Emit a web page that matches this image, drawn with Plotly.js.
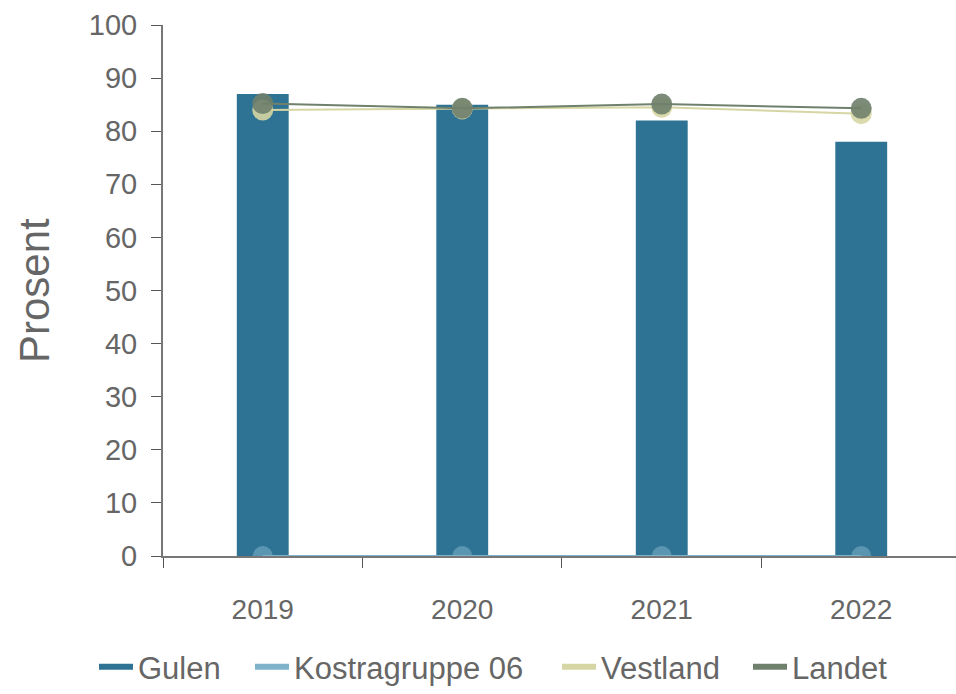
<!DOCTYPE html>
<html><head><meta charset="utf-8">
<script src="https://cdn.plot.ly/plotly-3.0.1.min.js"></script>
<style>html,body{margin:0;padding:0;background:#fff;overflow:hidden}#chart{width:956px;height:694px}</style>
</head><body><div id="chart"></div>
<script>
const years = ["2019","2020","2021","2022"];
const gulen = [87, 85, 82, 78];
const kostra = [0, 0, 0, 0];
const vestland = [84, 84.2, 84.5, 83.3];
const landet = [85.2, 84.3, 85.1, 84.3];
const seriesNames = ["Gulen", "Kostragruppe 06", "Vestland", "Landet"];

const cGulen = "#2e7393", cKostra = "#7fb3cc", cVest = "#d6d6a4", cLand = "#6f806c";
const colors = [cGulen, cKostra, cVest, cLand];
const legendTextX = [139, 295, 602, 793];

const traces = [
  {type:"bar", x:years, y:gulen, name:seriesNames[0], marker:{color:cGulen}, width:0.26, showlegend:false},
  {type:"scatter", mode:"lines+markers", x:years, y:kostra, name:seriesNames[1],
   line:{color:cKostra,width:2}, marker:{size:20,color:cKostra,opacity:0.55}, showlegend:false, cliponaxis:true},
  {type:"scatter", mode:"lines+markers", x:years, y:vestland, name:seriesNames[2],
   line:{color:cVest,width:2}, marker:{size:21,color:cVest,opacity:0.9}, showlegend:false},
  {type:"scatter", mode:"lines+markers", x:years, y:landet, name:seriesNames[3],
   line:{color:cLand,width:2}, marker:{size:21,color:cLand,opacity:0.9}, showlegend:false}
];
const legendIds = ["legend","legend2","legend3","legend4"];
seriesNames.forEach((n,i)=>{
  traces.push({type:"scatter", mode:"lines", x:[null], y:[null], name:n,
    line:{color:colors[i],width:6}, legend:legendIds[i], showlegend:true});
});

const layout = {
  width:956, height:694,
  margin:{l:163, r:0, t:25, b:138},
  paper_bgcolor:"#fff", plot_bgcolor:"#fff",
  font:{family:"Liberation Sans, Arial, sans-serif", color:"#666", size:20},
  showlegend:true,
  xaxis:{type:"category", range:[-0.5, 3.475], tickson:"boundaries", ticks:"outside", ticklen:10, tickcolor:"#555",
         showline:true, linecolor:"#777", linewidth:2, showgrid:false, zeroline:false,
         tickfont:{size:28,color:"#666"}, ticklabelstandoff:27},
  yaxis:{range:[0,100], dtick:10, ticks:"outside", ticklen:10, tickcolor:"#555",
         showline:true, linecolor:"#777", linewidth:2, showgrid:false, zeroline:false,
         tickfont:{size:29,color:"#666"}, ticklabelstandoff:8},
  annotations:[{text:"Prosent", textangle:-90, xref:"paper", yref:"paper", x:-0.162, y:0.5,
                xanchor:"center", yanchor:"middle", showarrow:false, font:{size:42,color:"#666"}}]
};
legendIds.forEach((id,i)=>{
  layout[id] = {orientation:"h", xref:"container", yref:"container", x:(legendTextX[i]-45)/956, xanchor:"left",
    y:-0.006, yanchor:"bottom", font:{size:31,color:"#666"}, itemwidth:34, bgcolor:"rgba(0,0,0,0)"};
});
Plotly.newPlot("chart", traces, layout, {displayModeBar:false, staticPlot:true});
</script></body></html>
